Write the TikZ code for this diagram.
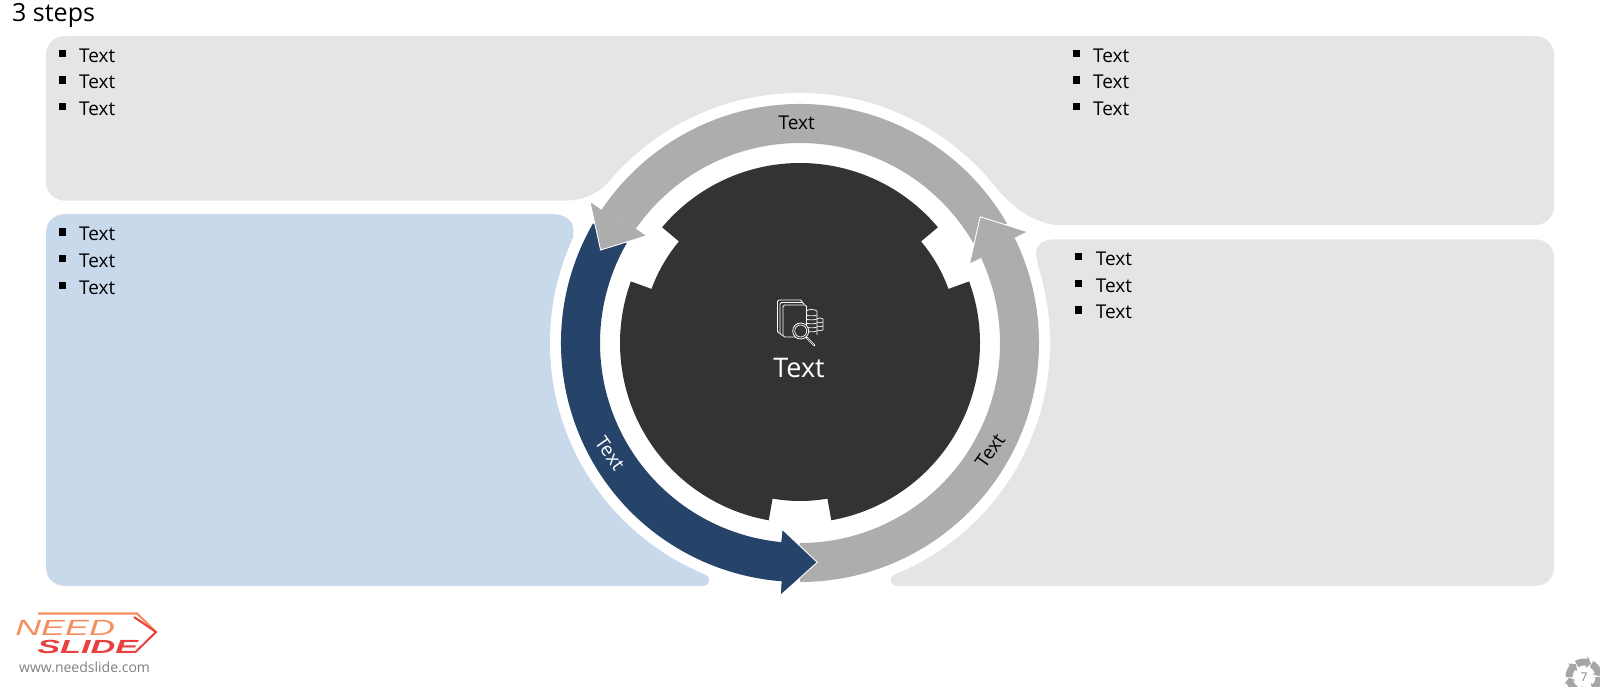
\documentclass[tikz,border=0pt]{standalone}
\usepackage{fontspec}
\setmainfont{Open Sans}
\newfontfamily\logofont{Liberation Sans}
\definecolor{panelgray}{HTML}{E5E5E5}
\definecolor{panelblue}{HTML}{C9D9EC}
\definecolor{navyarrow}{HTML}{264469}
\definecolor{grayarrow}{HTML}{ADADAD}
\definecolor{darkdisc}{HTML}{333333}
\definecolor{logoorange}{HTML}{F68F5F}
\definecolor{logored}{HTML}{E8403F}
\definecolor{pagegray}{HTML}{A6A6A6}
\tikzset{
  bodytext/.style={font=\fontsize{19}{19}\selectfont,text=black,inner sep=0pt},
  ringtext/.style={font=\fontsize{19}{19}\selectfont,inner sep=0pt},
  icon/.style={draw=white,line width=0.8pt,fill=darkdisc},
  iconline/.style={draw=white,line width=0.7pt},
  headedge/.style={draw=white,line width=0.9pt,line join=miter},
}
% start angle, head base angle, colour
\newcommand{\ringarrow}[3]{%
  \pgfmathsetmacro{\aout}{#2+1}\pgfmathsetmacro{\atip}{#2+10}%
  \fill[#3] (#1:239) arc[start angle=#1,end angle=\aout,radius=239pt]
    -- (\aout:253.5) -- (\atip:220) -- (#2:187) -- (#2:200)
    arc[start angle=#2,end angle=#1,radius=200pt] -- cycle;
  \draw[headedge] (\aout:239) -- (\aout:253.5) -- (\atip:220) -- (#2:187) -- (#2:200);
}
\newcommand{\bulletlist}[4]{% name, square x, text x, first baseline
  \foreach \i in {0,1,2}{%
    \pgfmathsetmacro{\by}{#4+26.65*\i}
    \fill[black] (#2,\by-12.6) rectangle ++(7,7.4);
    \node[bodytext,anchor=base west] (#1\i) at (#3,\by) {Text};
  }%
}
\begin{document}
\begin{tikzpicture}[x=1pt,y=1pt]
\useasboundingbox (0,0) rectangle (1600,686);
\clip (0,0) rectangle (1600,686);
\begin{scope}[y=-1pt,yshift=686pt]
  % panels
  \fill[panelgray] (65,36) -- (1535,36) .. controls (1546,36) and (1554,44) .. (1554,55)
    -- (1554,206) .. controls (1554,217) and (1546,225) .. (1535,225)
    -- (1060,225) .. controls (1035,225) and (1010.3,205.5) .. (994.6,186)
    -- (800,150) -- (609.9,180.6)
    .. controls (598.2,194.3) and (582,200.7) .. (563,200.7)
    -- (65,200.7) .. controls (54,200.7) and (46,192) .. (46,181.7)
    -- (46,55) .. controls (46,44) and (54,36) .. (65,36) -- cycle;
  \fill[panelblue] (65,214) -- (552,214) .. controls (566,214) and (576,222) .. (573,235)
    -- (640,400) -- (703,573) .. controls (712,577) and (711,586) .. (702,586)
    -- (65,586) .. controls (54,586) and (46,578) .. (46,567)
    -- (46,233) .. controls (46,222) and (54,214) .. (65,214) -- cycle;
  \fill[panelgray] (1055,239.3) -- (1535,239.3) .. controls (1546,239.3) and (1554,247) .. (1554,258)
    -- (1554,567) .. controls (1554,578) and (1546,586) .. (1535,586)
    -- (898,586) .. controls (889,586) and (888,577) .. (896,573)
    -- (960,400) -- (1038,262) .. controls (1032,248) and (1040,239.3) .. (1055,239.3) -- cycle;
  \fill[white] (800,343) circle[radius=250pt];
  % title and lists
  \node[font=\fontsize{25}{25}\selectfont,inner sep=0pt,anchor=base west] (title) at (12,21.7) {3 steps};
  \bulletlist{tl}{59}{79}{62.3}
  \bulletlist{tr}{1073.3}{1093}{62.3}
  \bulletlist{bl}{59}{79}{241}
  \bulletlist{br}{1075.3}{1095.7}{265.7}
  % ring
  \begin{scope}[shift={(800,343)},y=1pt]
    \fill[darkdisc] (40:180) arc[start angle=40,end angle=140,radius=180pt]
      -- (140:158) arc[start angle=140,end angle=160,radius=158pt]
      -- (160:180) arc[start angle=160,end angle=260,radius=180pt]
      -- (260:158) arc[start angle=260,end angle=280,radius=158pt]
      -- (280:180) arc[start angle=280,end angle=380,radius=180pt]
      -- (20:158) arc[start angle=20,end angle=40,radius=158pt] -- cycle;
    \fill[grayarrow] (30:239) arc[start angle=30,end angle=146,radius=239pt]
      -- (145:200) arc[start angle=145,end angle=30,radius=200pt] -- cycle;
    \ringarrow{-90}{25}{grayarrow}
    \ringarrow{150}{264.5}{navyarrow}
    \fill[grayarrow] (146:239) -- (146:253.5) -- (155:220) -- (145:187) -- (145:200) -- cycle;
    \draw[headedge] (146:239) -- (146:253.5) -- (155:220) -- (145:187) -- (145:200);
  \end{scope}
  \node[ringtext,text=black] (toplabel) at (796.7,122.7) {Text};
  \node[ringtext,text=black,rotate=55] (rightlabel) at (990,450.7) {Text};
  \node[ringtext,text=white,rotate=-55] (leftlabel) at (610,453.3) {Text};
  % centre icon: pages
  \draw[icon,rounded corners=1.5pt] (777.5,300) rectangle (802,333);
  \draw[icon,rounded corners=1.5pt] (780,302.5) rectangle (804,335);
  % coins
  \foreach \cy in {315,319,323,327,331}
    \draw[iconline] (806,\cy) .. controls (809,\cy+1.2) and (814,\cy+1.2) .. (817,\cy);
  \draw[iconline] (806,311) .. controls (809,309) and (814,309) .. (817,311) -- (817,335);
  \foreach \cy in {322,326,330}
    \draw[iconline] (817,\cy) .. controls (819,\cy+1) and (821,\cy+1) .. (823,\cy);
  \draw[iconline] (817,319) .. controls (819,317.5) and (821,317.5) .. (823,319) -- (823,330);
  \draw[icon,rounded corners=1.5pt] (783,305) rectangle (806.5,337);
  % magnifier
  \draw[draw=white,line width=1.8pt,line cap=round] (806.5,337.5) -- (814.5,345.5);
  \draw[draw=darkdisc,line width=0.5pt,line cap=round] (807,338) -- (814,345);
  \draw[icon] (800.7,331) circle[radius=8pt];
  \draw[iconline] (800.7,331) circle[radius=6pt];
  \node[font=\fontsize{27}{27}\selectfont,text=white,inner sep=0pt,anchor=base] (centre) at (799,377.3) {Text};
  % logo
  \draw[logoorange,line width=2.2pt] (38,613.5) -- (137,613.5) -- (155,631);
  \draw[logored,line width=2pt] (134,617) -- (156,632) -- (135,652.5);
  \node[font=\logofont\itshape\fontsize{22}{22}\selectfont,text=logoorange,inner sep=0pt,anchor=base west,xscale=1.63,transform shape] (need) at (15,635) {NEED};
  \node[font=\logofont\itshape\bfseries\fontsize{19}{19}\selectfont,text=logored,inner sep=0pt,anchor=base west,xscale=1.8,transform shape] (slide) at (37,653) {SLIDE};
  \node[font=\fontsize{14}{14}\selectfont,text=gray,inner sep=0pt,anchor=base west] (web) at (19,672) {www.needslide.com};
  % page badge
  \begin{scope}[shift={(1584,677)},y=1pt]
    \foreach \a in {0,60,...,300}{
      \pgfmathsetmacro{\b}{\a-40}\pgfmathsetmacro{\c}{\a-58}
      \fill[pagegray] (\a:18.5) arc[start angle=\a,end angle=\b,radius=18.5pt]
        -- (\b:21) -- (\c:15) -- (\b:9) -- (\b:11.5)
        arc[start angle=\b,end angle=\a,radius=11.5pt] -- cycle;
    }
  \end{scope}
  \node[font=\fontsize{12}{12}\selectfont,text=gray,inner sep=0pt] (pageno) at (1584,677) {7};
\end{scope}
\end{tikzpicture}
\end{document}
